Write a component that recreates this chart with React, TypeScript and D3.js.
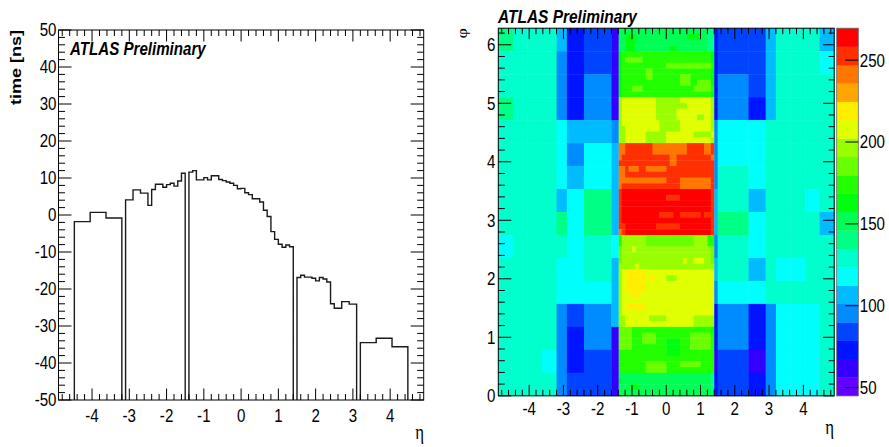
import React from "react";
import * as d3 from "d3";

const TWO_PI = 2 * Math.PI;

// ---------------- Left panel: timing vs eta ----------------
const histEtaLow = [
  -4.475, -4.05, -3.625,
  -3.1, -2.9, -2.7, -2.5, -2.4, -2.3, -2.2, -2.1, -2.0, -1.9, -1.8, -1.7, -1.6,
  -1.4, -1.3, -1.2, -1.1, -1.0, -0.9, -0.8, -0.7, -0.6, -0.5, -0.4, -0.3, -0.2, -0.1,
  0.0, 0.1, 0.2, 0.3, 0.4, 0.5, 0.6, 0.7, 0.8, 0.9, 1.0, 1.1, 1.2, 1.3,
  1.5, 1.6, 1.7, 1.8, 1.9, 2.0, 2.1, 2.2, 2.3, 2.4, 2.5, 2.7, 2.9,
  3.2, 3.625, 4.05,
];
const histEtaHigh = [
  -4.05, -3.625, -3.2,
  -2.9, -2.7, -2.5, -2.4, -2.3, -2.2, -2.1, -2.0, -1.9, -1.8, -1.7, -1.6, -1.5,
  -1.3, -1.2, -1.1, -1.0, -0.9, -0.8, -0.7, -0.6, -0.5, -0.4, -0.3, -0.2, -0.1, 0.0,
  0.1, 0.2, 0.3, 0.4, 0.5, 0.6, 0.7, 0.8, 0.9, 1.0, 1.1, 1.2, 1.3, 1.4,
  1.6, 1.7, 1.8, 1.9, 2.0, 2.1, 2.2, 2.3, 2.4, 2.5, 2.7, 2.9, 3.1,
  3.625, 4.05, 4.475,
];
const histTime = [
  -1.8, 0.7, -0.8,
  4.1, 6.8, 5.9, 2.6, 6.9, 8.3, 8.3, 7.5, 8.2, 8.6, 7.8, 9.2, 11.3,
  11.6, 12.0, 9.5, 9.5, 10.1, 9.5, 10.6, 10.6, 9.6, 9.3, 8.9, 8.6, 8.0, 7.1,
  7.2, 6.0, 5.5, 4.4, 4.4, 3.5, 1.3, -0.4, -4.5, -6.6, -7.9, -8.7, -8.1, -8.6,
  -16.9, -16.3, -16.8, -16.8, -17.1, -17.8, -16.9, -17.3, -18.1, -24.0, -25.2, -23.4, -24.1,
  -34.5, -33.3, -35.6,
];
const timeTicks = [-50, -40, -30, -20, -10, 0, 10, 20, 30, 40, 50];
const etaTicks = [-4, -3, -2, -1, 0, 1, 2, 3, 4];
const phiTicks = [0, 1, 2, 3, 4, 5, 6];
const zTicks = [50, 100, 150, 200, 250];

// ---------------- Right panel: eta-phi occupancy ----------------
const Z_MIN = 45;
const Z_MAX = 269.5;
const N_CONT = 20;

// central region eta -1.4..1.4 (0.1 bins), 64 phi rows listed top -> bottom,
// run-length "count:contourLevel"
const centralRows = [
  "26:9 2:8",
  "2:9 3:10 15:9 4:10 2:9 2:8",
  "2:9 3:10 21:9 2:8",
  "2:9 3:10 10:9 2:10 9:9 2:8",
  "1:10 26:11 1:10",
  "1:10 1:11 5:12 20:11 1:10",
  "1:10 13:11 13:12 1:11",
  "1:10 7:11 2:12 17:11 1:10",
  "1:10 7:11 2:12 8:11 3:12 6:11 1:10",
  "1:10 17:11 3:12 2:11 4:12 1:10",
  "1:10 3:11 3:12 15:11 5:12 1:11",
  "1:10 26:11 1:10",
  "1:13 10:14 7:13 9:14 1:13",
  "1:13 10:14 9:13 7:14 1:13",
  "1:13 10:14 6:13 10:14 1:13",
  "1:13 10:14 6:13 6:14 2:13 2:14 1:13",
  "1:13 11:14 6:13 9:14 1:13",
  "2:13 10:14 6:13 9:14 1:13",
  "2:13 6:14 6:13 8:14 5:13 1:14",
  "2:13 6:14 6:13 13:14 1:13",
  "2:17 8:18 10:17 5:18 2:17 1:18",
  "2:17 8:18 10:17 5:18 2:17 1:18",
  "1:17 14:18 2:17 10:18 1:17",
  "15:18 2:17 11:18",
  "2:17 1:18 3:17 2:18 6:17 14:18",
  "2:17 26:18",
  "14:17 4:18 9:17 1:18",
  "1:17 17:18 9:17 1:18",
  "1:18 26:19 1:18",
  "1:18 13:19 4:18 9:19 1:18",
  "1:18 26:19 1:18",
  "1:18 26:19 1:18",
  "1:18 11:19 4:18 2:19 6:18 1:19 3:18",
  "1:18 26:19 1:18",
  "2:18 9:19 7:18 9:19 1:18",
  "1:17 1:18 25:19 1:18",
  "1:11 7:13 14:12 4:13 2:11",
  "1:11 7:13 14:12 4:13 2:11",
  "1:12 3:13 1:14 22:13 1:12",
  "1:12 26:13 1:12",
  "1:12 18:13 1:14 2:13 3:14 2:13 1:12",
  "5:13 1:14 22:13",
  "1:13 1:14 6:15 20:14",
  "1:13 1:14 6:15 1:14 2:15 3:14 3:13 11:14",
  "1:13 1:14 6:15 20:14",
  "1:13 1:14 6:15 20:14",
  "1:13 3:14 2:15 22:14",
  "1:13 27:14",
  "1:13 1:14 6:15 20:14",
  "1:13 27:14",
  "2:13 7:14 5:13 8:14 6:13",
  "2:13 20:14 6:13",
  "4:12 23:11 1:10",
  "4:12 3:11 4:12 10:11 6:12 1:11",
  "4:12 3:11 4:12 3:11 4:10 3:11 6:12 1:11",
  "4:12 10:11 4:10 3:11 6:12 1:11",
  "14:11 4:10 10:11",
  "28:11",
  "8:11 6:12 4:11 6:12 4:11",
  "8:11 6:12 14:11",
  "27:9 1:8",
  "1:10 26:9 1:8",
  "4:9 2:10 21:9 1:8",
  "27:9 1:8",
];

// outer regions: 16 phi bins each, listed top -> bottom (contour levels)
const outerEtaLow = [-4.9, -4.475, -4.05, -3.625, -3.2, -2.9, -2.4, -1.6, 1.4, 1.5, 2.4, 2.9, 3.2, 3.625, 4.05, 4.475];
const outerEtaHigh = [-4.475, -4.05, -3.625, -3.2, -2.9, -2.4, -1.6, -1.4, 1.5, 2.4, 2.9, 3.2, 3.625, 4.05, 4.475, 4.9];
const outerLevels = [
  [8, 7, 7, 8, 7, 7, 7, 7, 7, 6, 7, 7, 7, 7, 7, 7],
  [7, 7, 7, 7, 7, 7, 7, 7, 7, 7, 7, 7, 7, 7, 7, 7],
  [7, 7, 7, 7, 7, 7, 7, 7, 7, 7, 7, 7, 7, 7, 7, 7],
  [7, 7, 7, 7, 7, 7, 7, 7, 7, 7, 7, 7, 7, 7, 6, 7],
  [5, 4, 4, 4, 6, 6, 6, 5, 8, 7, 6, 6, 4, 4, 4, 4],
  [2, 2, 2, 2, 5, 4, 5, 6, 6, 6, 6, 6, 3, 2, 2, 3],
  [3, 3, 4, 4, 5, 6, 6, 8, 8, 7, 7, 6, 4, 4, 3, 3],
  [1, 1, 1, 1, 4, 5, 5, 5, 5, 6, 5, 5, 5, 1, 1, 1],
  [2, 2, 2, 2, 4, 4, 4, 5, 5, 4, 5, 4, 2, 2, 1, 2],
  [3, 3, 4, 4, 6, 6, 7, 7, 8, 7, 7, 6, 4, 4, 3, 3],
  [3, 3, 3, 2, 6, 6, 6, 5, 6, 6, 5, 6, 2, 2, 1, 2],
  [5, 5, 5, 5, 7, 7, 7, 7, 7, 7, 7, 7, 4, 4, 4, 4],
  [7, 7, 7, 7, 7, 7, 7, 7, 7, 7, 6, 7, 6, 6, 6, 6],
  [7, 7, 7, 7, 7, 7, 7, 7, 7, 7, 6, 7, 6, 6, 6, 6],
  [7, 7, 7, 7, 7, 7, 7, 6, 7, 7, 7, 7, 6, 6, 6, 6],
  [5, 6, 7, 7, 7, 7, 7, 7, 5, 7, 7, 7, 7, 7, 7, 7],
];

// ---------------- helpers ----------------
const STEP = (Z_MAX - Z_MIN) / N_CONT;
const levelToZ = (l: number) => Z_MIN + (l + 0.5) * STEP;
function contourColor(z: number) {
  const lvl = Math.max(0, Math.min(N_CONT - 1, Math.floor((z - Z_MIN) / STEP)));
  const idx = Math.floor(((lvl + 0.99) * 50) / N_CONT);
  const hue = 280 - (idx + 1) * 5.6;
  return d3.hsl(hue, 1, 0.5).formatHex();
}
function parseRuns(s: string) {
  return s.split(" ").map((t) => {
    const [n, l] = t.split(":").map(Number);
    return { n, l };
  });
}
const isInt = (v: number) => Math.abs(v - Math.round(v)) < 1e-6;

const FONT = "'Liberation Sans', Arial, Helvetica, sans-serif";
const SERIF = "'Liberation Serif', 'DejaVu Serif', serif";
const SX = 0.84;

const LF = { x0: 58.5, x1: 423.7, y0: 30, y1: 400 };
const RF = { x0: 498.3, x1: 834.2, y0: 28.2, y1: 395.8 };
const CB = { x0: 836.7, x1: 858.3 };

export default function App() {
  const xL = d3.scaleLinear().domain([-4.9, 4.9]).range([LF.x0, LF.x1]);
  const yL = d3.scaleLinear().domain([-50, 50]).range([LF.y1, LF.y0]);
  const xR = d3.scaleLinear().domain([-4.9, 4.9]).range([RF.x0, RF.x1]);
  const yR = d3.scaleLinear().domain([0, TWO_PI]).range([RF.y1, RF.y0]);
  const zS = d3.scaleLinear().domain([Z_MIN, Z_MAX]).range([RF.y1, RF.y0]);

  // histogram path
  let d = "";
  let prevHigh: number | null = null;
  histTime.forEach((v, i) => {
    const lo = histEtaLow[i];
    const hi = histEtaHigh[i];
    if (prevHigh === null || Math.abs(lo - prevHigh) > 1e-6) {
      if (prevHigh !== null) d += `L${xL(prevHigh)},${yL(-50)}`;
      d += `M${xL(lo)},${yL(-50)}L${xL(lo)},${yL(v)}`;
    } else {
      d += `L${xL(lo)},${yL(v)}`;
    }
    d += `L${xL(hi)},${yL(v)}`;
    prevHigh = hi;
  });
  if (prevHigh !== null) d += `L${xL(prevHigh)},${yL(-50)}`;

  // heatmap cells
  const cells: { e0: number; e1: number; p0: number; p1: number; z: number }[] = [];
  centralRows.forEach((row, r) => {
    const j = 63 - r;
    const p0 = (j * TWO_PI) / 64;
    const p1 = ((j + 1) * TWO_PI) / 64;
    let c = 0;
    parseRuns(row).forEach(({ n, l }) => {
      cells.push({ e0: -1.4 + c * 0.1, e1: -1.4 + (c + n) * 0.1, p0, p1, z: levelToZ(l) });
      c += n;
    });
  });
  outerLevels.forEach((col, k) => {
    col.forEach((l, p) => {
      const j = 15 - p;
      cells.push({
        e0: outerEtaLow[k],
        e1: outerEtaHigh[k],
        p0: (j * TWO_PI) / 16,
        p1: ((j + 1) * TWO_PI) / 16,
        z: levelToZ(l),
      });
    });
  });

  const ticks: React.ReactElement[] = [];
  const tk = (key: string, x1: number, y1: number, x2: number, y2: number) =>
    ticks.push(<line key={key} x1={x1} y1={y1} x2={x2} y2={y2} stroke="#000" strokeWidth={1} />);

  // left panel ticks
  d3.range(-50, 50.001, 2).forEach((v) => {
    const major = Math.abs(v % 10) < 1e-6;
    const len = major ? 13 : 6.5;
    const y = yL(v);
    tk(`ly${v}`, LF.x0, y, LF.x0 + len, y);
    tk(`lyr${v}`, LF.x1, y, LF.x1 - len, y);
  });
  d3.range(-4.8, 4.8001, 0.2).forEach((v, i) => {
    const major = isInt(v);
    const len = major ? 11.5 : 6;
    const x = xL(v);
    tk(`lx${i}`, x, LF.y1, x, LF.y1 - len);
    tk(`lxt${i}`, x, LF.y0, x, LF.y0 + len);
  });
  // right panel ticks
  d3.range(0, 6.2001, 0.2).forEach((v, i) => {
    const major = isInt(v);
    const y = yR(v);
    tk(`ry${i}`, RF.x0, y, RF.x0 + (major ? 13 : 6.5), y);
    tk(`ryr${i}`, RF.x1, y, RF.x1 - (major ? 11 : 5.5), y);
  });
  d3.range(-4.8, 4.8001, 0.2).forEach((v, i) => {
    const major = isInt(v);
    const len = major ? 11 : 6;
    const x = xR(v);
    tk(`rx${i}`, x, RF.y1, x, RF.y1 - len);
    tk(`rxt${i}`, x, RF.y0, x, RF.y0 + len);
  });
  zTicks.forEach((v) => tk(`z${v}`, CB.x1, zS(v), CB.x1 - 13, zS(v)));

  const label = (key: string, x: number, y: number, text: string, anchor: string, size = 18) => (
    <text
      key={key}
      transform={`translate(${x},${y}) scale(${SX},1)`}
      textAnchor={anchor}
      fontFamily={FONT}
      fontSize={size}
      fill="#000"
    >
      {text}
    </text>
  );

  const bands = d3.range(N_CONT).map((l) => ({ lo: Z_MIN + l * STEP, hi: Z_MIN + (l + 1) * STEP, z: levelToZ(l) }));

  return (
    <svg
      width={889}
      height={447}
      style={{ position: "absolute", left: 0, top: 0, background: "#fff" }}
    >
      <rect x={0} y={0} width={889} height={447} fill="#fff" />

      {/* ---------- left panel ---------- */}
      <path d={d} fill="none" stroke="#1a1a1a" strokeWidth={1.4} />
      <rect x={LF.x0} y={LF.y0} width={LF.x1 - LF.x0} height={LF.y1 - LF.y0} fill="none" stroke="#000" strokeWidth={1} />
      {timeTicks.map((v) => label(`lyl${v}`, LF.x0 - 2, yL(v) + 6.4, String(v), "end"))}
      {etaTicks.map((v) => label(`lxl${v}`, xL(v), 421.5, String(v), "middle"))}
      <text
        transform={`translate(21,${LF.y0}) scale(${SX},1) rotate(-90)`}
        textAnchor="end"
        fontFamily={FONT}
        fontWeight="bold"
        fontSize={18}
      >
        time [ns]
      </text>
      <text transform={`translate(424,439) scale(${SX},1)`} textAnchor="end" fontFamily={SERIF} fontSize={20}>
        η
      </text>
      <text
        transform={`translate(70,55) scale(${SX},1)`}
        fontFamily={FONT}
        fontWeight="bold"
        fontStyle="italic"
        fontSize={18}
      >
        ATLAS Preliminary
      </text>

      {/* ---------- right panel ---------- */}
      <g>
        {cells.map((c, i) => {
          const x0 = xR(c.e0);
          const x1 = xR(c.e1);
          const y0 = yR(c.p1);
          const y1 = yR(c.p0);
          return (
            <rect
              key={`c${i}`}
              x={x0}
              y={y0}
              width={x1 - x0 + 0.4}
              height={y1 - y0 + 0.4}
              fill={contourColor(c.z)}
            />
          );
        })}
      </g>
      <rect x={RF.x0} y={RF.y0} width={RF.x1 - RF.x0} height={RF.y1 - RF.y0} fill="none" stroke="#000" strokeWidth={1} />
      {/* colour bar */}
      {bands.map((b, i) => (
        <rect
          key={`b${i}`}
          x={CB.x0}
          y={zS(b.hi)}
          width={CB.x1 - CB.x0}
          height={zS(b.lo) - zS(b.hi) + 0.3}
          fill={contourColor(b.z)}
        />
      ))}
      <rect x={CB.x0} y={RF.y0} width={CB.x1 - CB.x0} height={RF.y1 - RF.y0} fill="none" stroke="#666" strokeWidth={0.8} />
      {ticks}
      {phiTicks.map((v) => label(`ryl${v}`, RF.x0 - 3, yR(v) + 6.4, String(v), "end"))}
      {etaTicks.map((v) => label(`rxl${v}`, xR(v), 415, String(v), "middle"))}
      {zTicks.map((v) => label(`zl${v}`, CB.x1 + 1.5, zS(v) + 6.4, String(v), "start"))}
      <text transform={`translate(834,434) scale(${SX},1)`} textAnchor="end" fontFamily={SERIF} fontSize={20}>
        η
      </text>
      <text
        transform={`translate(467,28) scale(${SX},1) rotate(-90)`}
        textAnchor="end"
        fontFamily={SERIF}
        fontSize={18}
      >
        φ
      </text>
      <text
        transform={`translate(498,23) scale(0.86,1)`}
        fontFamily={FONT}
        fontWeight="bold"
        fontStyle="italic"
        fontSize={18}
      >
        ATLAS Preliminary
      </text>
    </svg>
  );
}
